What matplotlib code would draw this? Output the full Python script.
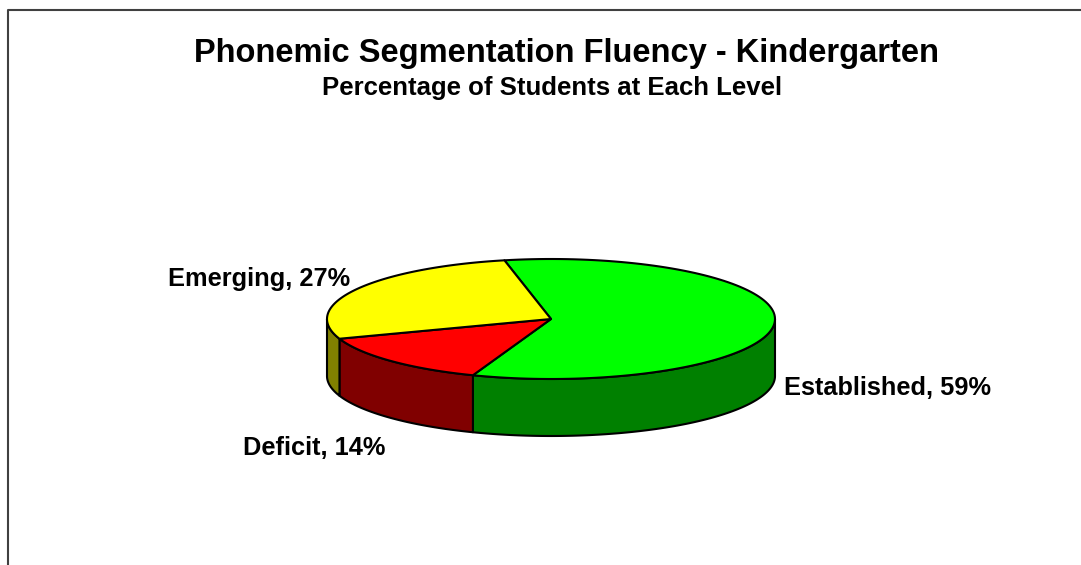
import numpy as np
import matplotlib.pyplot as plt
from matplotlib.patches import Polygon

plt.rcParams['font.family'] = ['Liberation Sans', 'DejaVu Sans']

# slice data, drawn clockwise from the start angle
labels = ["Established", "Deficit", "Emerging"]
values = [59, 14, 27]
top_colors = ["#00FF00", "#FF0000", "#FFFF00"]
side_colors = ["#008000", "#800000", "#808000"]

# pie geometry in pixels
cx, cy = 551, 319
rx, ry = 224, 60
depth = 57
start = 102.0

fig = plt.figure(figsize=(10.81, 5.65), dpi=100)
ax = fig.add_axes([0, 0, 1, 1])
ax.set_xlim(0, 1081)
ax.set_ylim(565, 0)
ax.axis("off")

# chart frame (left and top edges)
ax.plot([8, 8, 1081], [565, 10, 10], color="#404040", lw=1.5)


def rim(a0, a1, n=120):
    t = np.radians(np.linspace(a0, a1, n))
    return cx + rx * np.cos(t), cy - ry * np.sin(t)


total = float(sum(values))
angles = [start]
for v in values:
    angles.append(angles[-1] - 360.0 * v / total)

# side walls on the front half of the pie
for i in range(len(values)):
    a0, a1 = angles[i], angles[i + 1]
    for lo, hi in [(-180, 0), (-540, -360), (180, 360)]:
        s, e = min(a0, hi), max(a1, lo)
        if s <= e:
            continue
        x, y = rim(s, e)
        pts = np.column_stack([np.r_[x, x[::-1]], np.r_[y, y[::-1] + depth]])
        ax.add_patch(Polygon(pts, closed=True, facecolor=side_colors[i],
                             edgecolor="black", lw=1.5, joinstyle="round"))

# top faces
for i in range(len(values)):
    x, y = rim(angles[i], angles[i + 1])
    pts = np.column_stack([np.r_[cx, x], np.r_[cy, y]])
    ax.add_patch(Polygon(pts, closed=True, facecolor=top_colors[i],
                         edgecolor="black", lw=1.5, joinstyle="round"))

ax.text(567, 62, "Phonemic Segmentation Fluency - Kindergarten",
        ha="center", va="baseline", fontsize=23.5, fontweight="bold")
ax.text(552, 95, "Percentage of Students at Each Level",
        ha="center", va="baseline", fontsize=18.5, fontweight="bold")

label_pos = [(784, 395, "left"), (243, 455, "left"), (350, 286, "right")]
for (lx, ly, ha), lab, v in zip(label_pos, labels, values):
    ax.text(lx, ly, f"{lab}, {v}%", ha=ha, va="baseline",
            fontsize=18.3, fontweight="bold")

fig.savefig("out.png", dpi=100)
